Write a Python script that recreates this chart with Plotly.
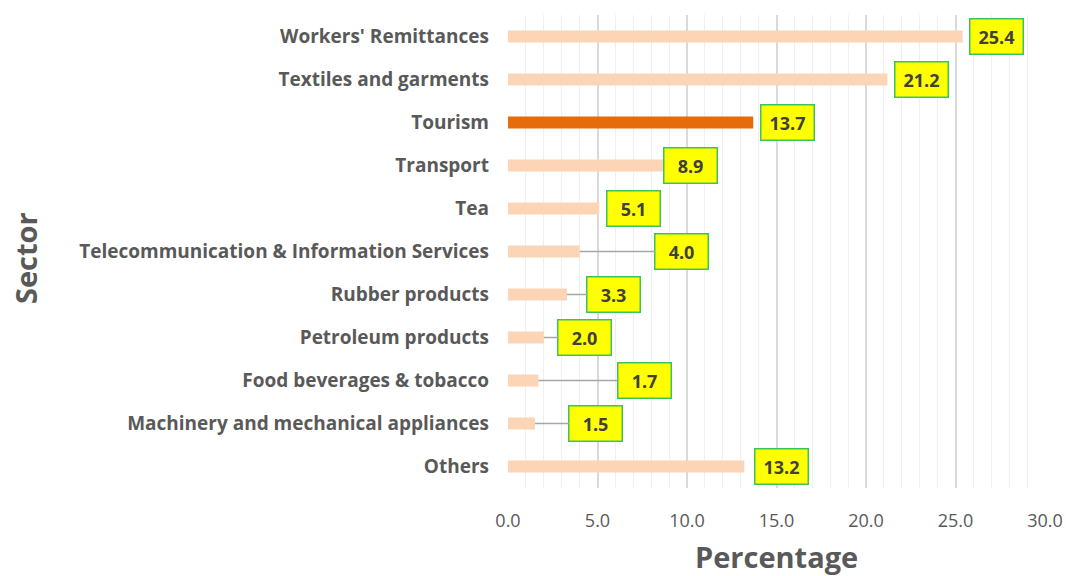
import plotly.graph_objects as go

sectors = ["Workers' Remittances", "Textiles and garments", "Tourism", "Transport", "Tea",
           "Telecommunication & Information Services", "Rubber products", "Petroleum products",
           "Food beverages & tobacco", "Machinery and mechanical appliances", "Others"]
values = [25.4, 21.2, 13.7, 8.9, 5.1, 4.0, 3.3, 2.0, 1.7, 1.5, 13.2]
highlight = "Tourism"
# where each value box sits along the x axis (label placement)
label_x = [27.3, 23.1, 15.6, 10.2, 7.0, 9.7, 5.9, 4.3, 7.6, 4.9, 15.3]
leader = [False, False, False, False, False, True, True, True, True, True, False]
x_ticks = [0, 5, 10, 15, 20, 25, 30]

colors = ["#e46c0a" if s == highlight else "#fbd5b5" for s in sectors]

fig = go.Figure(go.Bar(
    x=values, y=sectors, orientation="h", width=0.28,
    marker=dict(color=colors, line=dict(width=0)),
    hoverinfo="x+y",
))

box_style = dict(
    font=dict(family="Open Sans", size=18, color="#404040"),
    bgcolor="#ffff00", bordercolor="#3cc45a", borderwidth=1.5, borderpad=3,
    width=46, height=28,
)

for s, v, lx, ld in zip(sectors, values, label_x, leader):
    if ld:
        fig.add_annotation(
            x=v, y=s, ax=lx, ay=s, axref="x", ayref="y", xref="x", yref="y",
            text=f"<b>{v:.1f}</b>", showarrow=True, arrowhead=0, arrowwidth=1.3,
            arrowcolor="#a6a6a6", standoff=0, **box_style)
    else:
        fig.add_annotation(x=lx, y=s, xref="x", yref="y",
                           text=f"<b>{v:.1f}</b>", showarrow=False, **box_style)

fig.add_annotation(text="<b>Percentage</b>", xref="paper", yref="paper",
                   x=0.5, y=-(556 - 488) / 473, showarrow=False,
                   xanchor="center", yanchor="middle",
                   font=dict(family="Open Sans", size=29, color="#595959"))
fig.add_annotation(text="<b>Sector</b>", xref="paper", yref="paper",
                   x=(25 - 508) / 537, y=(488 - 258) / 473, showarrow=False,
                   textangle=-90, xanchor="center", yanchor="middle",
                   font=dict(family="Open Sans", size=29, color="#595959"))

fig.update_layout(
    width=1066, height=576, autosize=False,
    margin=dict(l=508, r=21, t=15, b=88),
    plot_bgcolor="white", paper_bgcolor="white",
    showlegend=False,
    xaxis=dict(range=[0, 30], tickvals=x_ticks, ticktext=[f"{t:.1f}" for t in x_ticks],
               showgrid=True, gridcolor="#d9d9d9", gridwidth=1.5, zeroline=False,
               minor=dict(dtick=1, showgrid=True, gridcolor="#efefef", gridwidth=1),
               tickfont=dict(family="Open Sans", size=18, color="#595959"),
               ticklabelstandoff=20, showline=False, fixedrange=True, automargin=False),
    yaxis=dict(categoryorder="array", categoryarray=sectors[::-1],
               range=[-0.5, 10.5], showgrid=False, zeroline=False, showline=False,
               tickfont=dict(family="Open Sans", size=19, color="#595959", weight="bold"),
               ticklabelstandoff=18, fixedrange=True, automargin=False),
    bargap=0.7,
)

post = ("document.body.style.margin='0';document.body.style.overflow='hidden';"
        "var gd=document.getElementById('{plot_id}');"
        "Plotly.relayout(gd,{width:1066,height:576});")

fig.write_html("out.html", config={"responsive": False, "displayModeBar": False},
               post_script=post)
